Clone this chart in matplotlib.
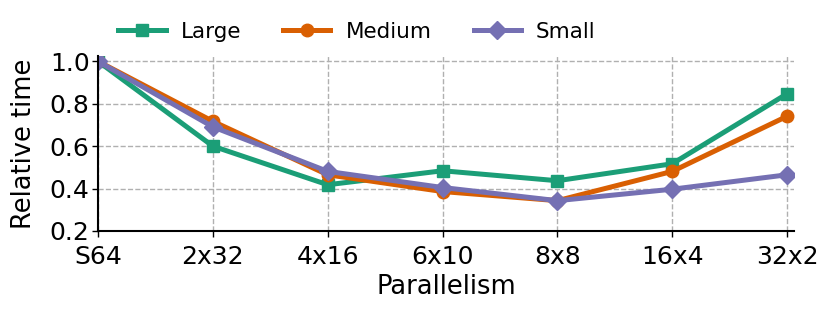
import numpy as np
import matplotlib
matplotlib.use("Agg")
import matplotlib.pyplot as plt

# values
configs = ["S64", "2x32", "4x16", "6x10", "8x8", "16x4", "32x2"]
large = [1.0, 0.60, 0.418, 0.484, 0.437, 0.517, 0.847]
medium = [1.0, 0.717, 0.465, 0.386, 0.343, 0.481, 0.741]
small = [1.0, 0.691, 0.481, 0.405, 0.343, 0.397, 0.465]

colors = ["#1b9e77", "#d95f02", "#7570b3"]

plt.rcParams["font.family"] = "DejaVu Sans"
plt.rcParams["font.size"] = 18

fig = plt.figure(figsize=(8.31, 3.14), dpi=100)
ax = fig.add_axes([98 / 831, 1 - 231 / 314, (794 - 98) / 831, (231 - 56) / 314])

x = np.arange(len(configs))
ax.plot(x, large, color=colors[0], marker="s", lw=3.6, ms=9, label="Large")
ax.plot(x, medium, color=colors[1], marker="o", lw=3.6, ms=9, label="Medium")
ax.plot(x, small, color=colors[2], marker="D", lw=3.6, ms=9, label="Small")

ax.set_xlim(0, 6.06)
ax.set_ylim(0.2, 1.025)
ax.set_xticks(x)
ax.set_xticklabels(configs, fontsize=18)
ax.set_yticks([0.2, 0.4, 0.6, 0.8, 1.0])
ax.set_yticklabels(["0.2", "0.4", "0.6", "0.8", "1.0"], fontsize=18)
ax.set_xlabel("Parallelism", fontsize=18.5, labelpad=4)
ax.set_ylabel("Relative time", fontsize=18.5, labelpad=9)

ax.grid(True, ls="--", color="#b0b0b0", lw=1)
ax.set_axisbelow(True)
for s in ["top", "right"]:
    ax.spines[s].set_visible(False)
ax.spines["left"].set_linewidth(1.5)
ax.spines["bottom"].set_linewidth(1.5)
ax.tick_params(axis="both", length=4, width=1)
ax.tick_params(axis="x", pad=6)
ax.tick_params(axis="y", pad=2)

ax.legend(loc="lower center", bbox_to_anchor=(0.372, 1.02), ncol=3, frameon=False,
          fontsize=15.5, handlelength=2.2, handletextpad=0.7,
          columnspacing=1.95, borderaxespad=0.1)

fig.savefig("out.png", dpi=100)
